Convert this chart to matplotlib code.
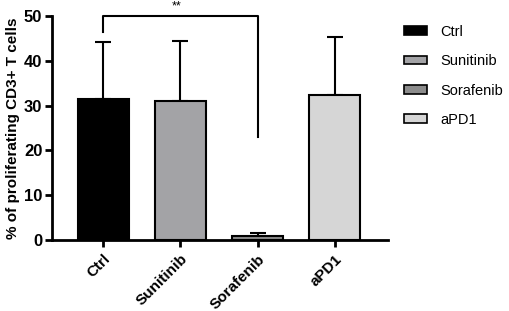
import matplotlib
matplotlib.use("Agg")
import matplotlib.pyplot as plt
from matplotlib.patches import Patch

categories = ["Ctrl", "Sunitinib", "Sorafenib", "aPD1"]
means = [31.4, 31.0, 0.9, 32.4]
errors = [12.8, 13.4, 0.7, 12.8]
colors = ["#000000", "#a3a3a6", "#8c8c8c", "#d6d6d6"]

plt.rcParams['font.family'] = ['Liberation Sans', 'DejaVu Sans']

fig = plt.figure(figsize=(5.1, 3.11), dpi=100)
ax = fig.add_axes([0.102, 0.228, 0.659, 0.721])
x = list(range(len(categories)))
ax.bar(x, means, width=0.66, color=colors, edgecolor="black", linewidth=1.5, zorder=2)
ax.errorbar(x, means, yerr=[[0]*4, errors], fmt="none", ecolor="black",
            elinewidth=1.5, capsize=6, capthick=1.5, zorder=1)

ax.set_xlim(-0.66, 3.69)
ax.set_ylim(0, 50)
ax.set_yticks([0, 10, 20, 30, 40, 50])
ax.set_xticks(x)
ax.set_xticklabels(categories, rotation=45, ha="right", rotation_mode="anchor",
                   fontsize=11, fontweight="bold")
for lab in ax.get_yticklabels():
    lab.set_fontsize(12)
    lab.set_fontweight("bold")
ax.set_ylabel("% of proliferating CD3+ T cells", fontsize=11, fontweight="bold", labelpad=3)
for s in ["top", "right"]:
    ax.spines[s].set_visible(False)
for s in ["left", "bottom"]:
    ax.spines[s].set_linewidth(2)
ax.tick_params(axis="both", width=2, length=5)
ax.tick_params(axis="y", pad=2)

# significance bracket
ax.plot([0, 0, 2, 2], [46.5, 50, 50, 23.0], color="black", lw=1.5, clip_on=False)
ax.text(0.95, 50.7, "**", ha="center", va="bottom", fontsize=9)

handles = [Patch(facecolor=c, edgecolor="black", linewidth=1.2) for c in colors]
fig.legend(handles, categories, loc="upper left", bbox_to_anchor=(0.775, 0.948),
           frameon=False, fontsize=10.5, handlelength=1.6, handleheight=0.55,
           labelspacing=1.05, handletextpad=0.9, borderaxespad=0.2)

fig.savefig("out.png", dpi=100)
